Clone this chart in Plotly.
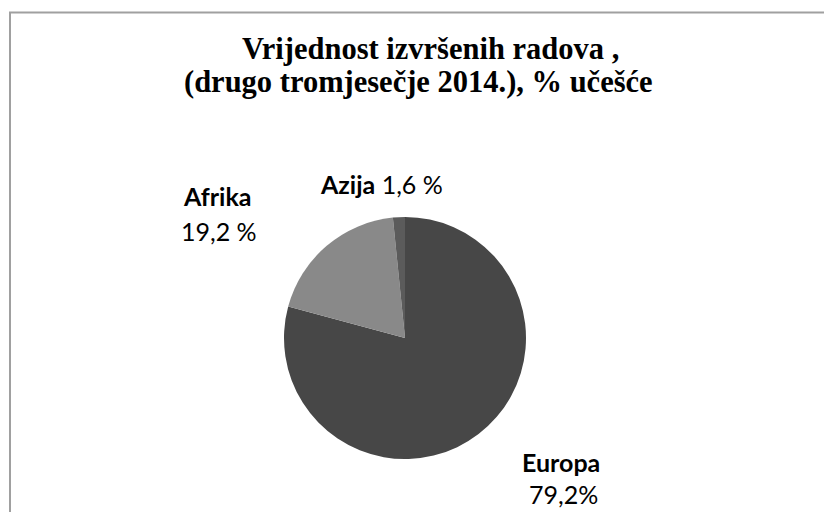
import plotly.graph_objects as go

regions = ["Europa", "Afrika", "Azija"]
shares = [79.2, 19.2, 1.6]
share_text = ["79,2%", "19,2 %", "1,6 %"]
colors = ["#474747", "#898989", "#5b5b5b"]
title_lines = ["Vrijednost izvršenih radova ,", "(drugo tromjesečje 2014.), % učešće"]

W, H = 824, 512
cx, cy, r = 405, 338, 121

fig = go.Figure(go.Pie(
    labels=regions, values=shares, sort=False, direction="clockwise", rotation=0,
    marker=dict(colors=colors, line=dict(width=0)),
    textinfo="none", hoverinfo="label+percent", showlegend=False,
    domain=dict(x=[(cx - r) / W, (cx + r) / W], y=[(H - cy - r) / H, (H - cy + r) / H]),
))


def put(text, x, y, font):
    fig.add_annotation(x=x / W, y=1 - y / H, xref="paper", yref="paper", showarrow=False,
                       xanchor="center", yanchor="middle", text=text, font=font, align="center")


lab_font = dict(family="Lato", size=25, color="#000000")
put(f"<b>{regions[0]}</b>", 561, 462, lab_font)
put(share_text[0], 563, 494, lab_font)
put(f"<b>{regions[1]}</b>", 217, 196, lab_font)
put(share_text[1], 219, 231, lab_font)
put(f"<b>{regions[2]}</b> {share_text[2]}", 381, 184, lab_font)

title_font = dict(family="Liberation Serif", size=30.5, color="#000000", weight="bold")
put(title_lines[0], 430, 49, title_font)
put(title_lines[1], 418, 82, title_font)

fig.add_shape(type="rect", xref="paper", yref="paper", x0=10 / W, x1=1.02, y0=-0.02, y1=1 - 12.5 / H,
              line=dict(color="#a0a0a0", width=2), fillcolor="rgba(0,0,0,0)")

fig.update_layout(width=W, height=H, margin=dict(l=0, r=0, t=0, b=0),
                  paper_bgcolor="white", plot_bgcolor="white")
fig.write_html("out.html", config={"displayModeBar": False},
               post_script="document.body.style.margin='0';document.body.style.overflow='hidden';")
